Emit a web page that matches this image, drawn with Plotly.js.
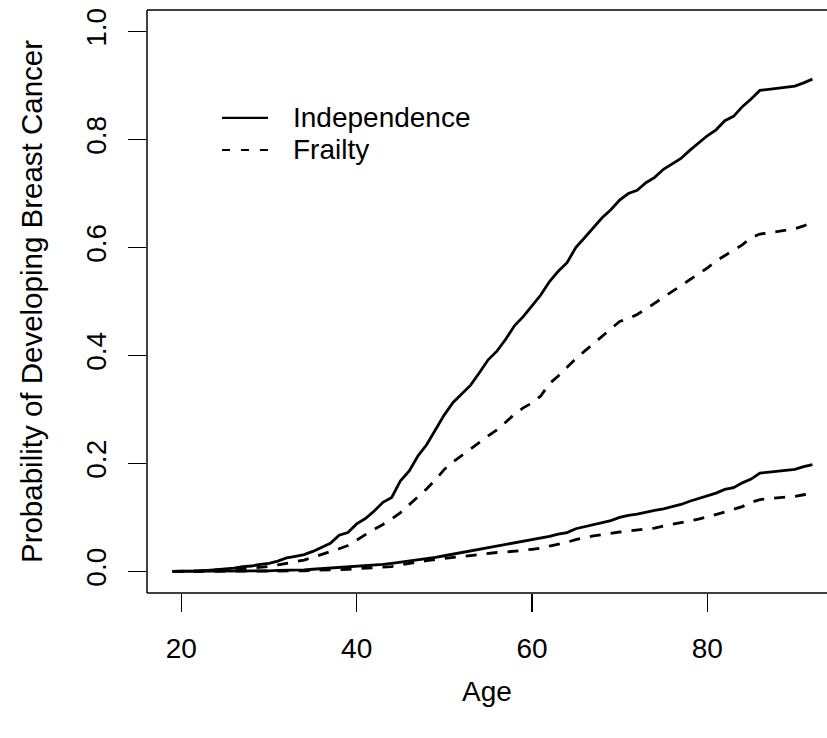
<!DOCTYPE html>
<html>
<head>
<meta charset="utf-8">
<script src="https://cdn.plot.ly/plotly-3.0.1.min.js"></script>
<style>
html, body { margin: 0; padding: 0; overflow: hidden; background: #fff; }
#chart { width: 827px; height: 738px; }
</style>
</head>
<body>
<div id="chart"></div>
<script>
// Ages (years)
const ages = [19,20,21,22,23,24,25,26,27,28,29,30,31,32,33,34,35,36,37,38,39,40,41,42,43,44,45,46,47,48,49,50,51,52,53,54,55,56,57,58,59,60,61,62,63,64,65,66,67,68,69,70,71,72,73,74,75,76,77,78,79,80,81,82,83,84,85,86,87,88,89,90,91,92];

// Independence model, upper curve
const indepHigh = [0.000,0.000,0.001,0.001,0.002,0.003,0.004,0.006,0.009,0.010,0.013,0.015,0.019,0.025,0.028,0.031,0.037,0.045,0.052,0.067,0.072,0.088,0.098,0.112,0.128,0.137,0.168,0.186,0.214,0.235,0.262,0.290,0.313,0.329,0.345,0.368,0.392,0.408,0.430,0.455,0.472,0.492,0.512,0.537,0.556,0.572,0.600,0.618,0.637,0.655,0.670,0.688,0.700,0.706,0.720,0.730,0.745,0.755,0.765,0.780,0.794,0.807,0.818,0.835,0.843,0.861,0.875,0.891,0.893,0.895,0.897,0.899,0.905,0.912];

// Frailty model, upper curve
const frailHigh = [0.000,0.000,0.0005,0.001,0.0015,0.002,0.003,0.004,0.005,0.006,0.008,0.009,0.012,0.015,0.018,0.021,0.026,0.031,0.036,0.042,0.048,0.058,0.069,0.078,0.087,0.097,0.109,0.124,0.139,0.153,0.170,0.189,0.203,0.215,0.228,0.239,0.251,0.262,0.276,0.291,0.303,0.312,0.325,0.348,0.362,0.378,0.394,0.408,0.422,0.436,0.450,0.463,0.468,0.476,0.486,0.497,0.507,0.518,0.530,0.541,0.552,0.562,0.575,0.585,0.596,0.605,0.618,0.625,0.627,0.629,0.632,0.635,0.640,0.647];

// Independence model, lower curve
const indepLow = [0.000,0.000,0.000,0.000,0.000,0.000,0.001,0.001,0.001,0.001,0.001,0.001,0.002,0.002,0.003,0.003,0.004,0.005,0.006,0.007,0.008,0.009,0.010,0.012,0.013,0.015,0.017,0.019,0.021,0.023,0.026,0.029,0.032,0.035,0.037,0.040,0.043,0.046,0.049,0.052,0.055,0.059,0.061,0.065,0.069,0.072,0.079,0.083,0.087,0.091,0.094,0.100,0.104,0.106,0.110,0.113,0.116,0.120,0.124,0.130,0.135,0.140,0.145,0.152,0.155,0.164,0.171,0.182,0.184,0.185,0.187,0.189,0.194,0.198];

// Frailty model, lower curve
const frailLow = [0.000,0.000,0.000,0.000,0.000,0.000,0.000,0.000,0.001,0.001,0.001,0.001,0.001,0.001,0.001,0.001,0.002,0.002,0.002,0.003,0.004,0.005,0.006,0.007,0.008,0.009,0.012,0.015,0.018,0.020,0.022,0.024,0.026,0.028,0.030,0.032,0.033,0.035,0.036,0.037,0.039,0.041,0.043,0.047,0.050,0.054,0.059,0.063,0.066,0.068,0.071,0.073,0.075,0.077,0.078,0.080,0.084,0.087,0.090,0.093,0.097,0.101,0.105,0.110,0.115,0.120,0.128,0.133,0.135,0.136,0.137,0.139,0.142,0.145];

const xTicks = [20, 40, 60, 80];
const yTicks = [0.0, 0.2, 0.4, 0.6, 0.8, 1.0];
const yTickText = ['0.0', '0.2', '0.4', '0.6', '0.8', '1.0'];
const legendLabels = ['Independence', 'Frailty'];

const FONT = 'Liberation Sans, Arial, Helvetica, sans-serif';
const LW = 2.8;
const solid = {color: '#000', width: LW, dash: 'solid'};
const dashed = {color: '#000', width: LW, dash: '11px,10px'};

const traces = [
  {x: ages, y: indepHigh, mode: 'lines', name: legendLabels[0], line: solid},
  {x: ages, y: frailHigh, mode: 'lines', name: legendLabels[1], line: dashed},
  {x: ages, y: indepLow, mode: 'lines', name: legendLabels[0], line: solid},
  {x: ages, y: frailLow, mode: 'lines', name: legendLabels[1], line: dashed}
];

// Plot area: x 147..827 px (right edge of the frame falls outside the picture), y 10..593 px
const boxLine = {color: '#000', width: 1.5};
const legY = [0.8148, 0.7599];
const layout = {
  width: 827,
  height: 738,
  margin: {l: 147, r: 0, t: 10, b: 145},
  paper_bgcolor: '#fff',
  plot_bgcolor: '#fff',
  font: {family: FONT, size: 28, color: '#000'},
  showlegend: false,
  xaxis: {
    range: [16.08, 93.66],
    tickmode: 'array', tickvals: xTicks,
    ticks: 'outside', ticklen: 18, tickwidth: 1.2, tickcolor: '#000',
    ticklabelstandoff: 12,
    showgrid: false, zeroline: false, showline: false,
    title: {text: 'Age', font: {family: FONT, size: 28}, standoff: 18}
  },
  yaxis: {
    range: [-0.04, 1.04],
    tickmode: 'array', tickvals: yTicks, ticktext: yTickText,
    tickangle: -90,
    ticks: 'outside', ticklen: 18, tickwidth: 1.2, tickcolor: '#000',
    ticklabelstandoff: 11,
    showgrid: false, zeroline: false, showline: false,
    title: {text: 'Probability of Developing Breast Cancer', font: {family: FONT, size: 29.5}, standoff: 29}
  },
  shapes: [
    {type: 'line', xref: 'paper', yref: 'paper', x0: 0, x1: 1, y0: 1, y1: 1, line: boxLine},
    {type: 'line', xref: 'paper', yref: 'paper', x0: 0, x1: 1, y0: 0, y1: 0, line: boxLine},
    {type: 'line', xref: 'paper', yref: 'paper', x0: 0, x1: 0, y0: 0, y1: 1, line: boxLine},
    {type: 'line', xref: 'paper', yref: 'paper', x0: 0.1103, x1: 0.1779, y0: legY[0], y1: legY[0],
     line: {color: '#000', width: LW - 0.6}},
    {type: 'line', xref: 'paper', yref: 'paper', x0: 0.1103, x1: 0.1779, y0: legY[1], y1: legY[1],
     line: {color: '#000', width: LW - 0.6, dash: '8px,11px'}}
  ],
  annotations: [
    {xref: 'paper', yref: 'paper', x: 0.2118, y: legY[0], xanchor: 'left', yanchor: 'middle',
     text: legendLabels[0], showarrow: false, font: {family: FONT, size: 28, color: '#000'}},
    {xref: 'paper', yref: 'paper', x: 0.2118, y: legY[1], xanchor: 'left', yanchor: 'middle',
     text: legendLabels[1], showarrow: false, font: {family: FONT, size: 28, color: '#000'}}
  ]
};

Plotly.newPlot('chart', traces, layout, {displayModeBar: false, staticPlot: true});
</script>
</body>
</html>
